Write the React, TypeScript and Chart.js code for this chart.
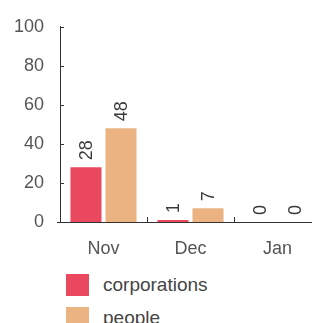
import React, { useEffect, useRef } from "react";
import { Chart, registerables } from "chart.js";

Chart.register(...registerables);

const categories = ["Nov", "Dec", "Jan"];
const seriesNames = ["corporations", "people"];
const corporations = [28, 1, 0];
const people = [48, 7, 0];
const yTicks = [0, 20, 40, 60, 80, 100];
const seriesColors = ["#E9485E", "#EAB381"];

const FONT = "'Liberation Sans', Arial, sans-serif";

const valueLabels = {
  id: "valueLabels",
  afterDatasetsDraw(chart: any) {
    const ctx = chart.ctx;
    ctx.save();
    ctx.font = `18px ${FONT}`;
    ctx.fillStyle = "#3a3a3a";
    chart.data.datasets.forEach((ds: any, di: number) => {
      const meta = chart.getDatasetMeta(di);
      meta.data.forEach((el: any, i: number) => {
        ctx.save();
        ctx.translate(el.x, el.y - 7);
        ctx.rotate(-Math.PI / 2);
        ctx.textAlign = "left";
        ctx.textBaseline = "middle";
        ctx.fillText(String(ds.data[i]), 0, 1);
        ctx.restore();
      });
    });
    ctx.restore();
  },
};

const innerTicks = {
  id: "innerTicks",
  afterDraw(chart: any) {
    const ctx = chart.ctx;
    const { left, bottom } = chart.chartArea;
    const ys = chart.scales.y;
    const xs = chart.scales.x;
    ctx.save();
    ctx.strokeStyle = "#333";
    ctx.lineWidth = 1;
    ctx.beginPath();
    yTicks.forEach((v) => {
      if (v === 0) return;
      const y = Math.round(ys.getPixelForValue(v)) + 0.5;
      ctx.moveTo(left, y);
      ctx.lineTo(left + 4, y);
    });
    for (let i = 1; i <= categories.length; i++) {
      const x = Math.round((xs.getPixelForValue(i - 1) + xs.getPixelForValue(i)) / 2) + 0.5;
      ctx.moveTo(x, bottom);
      ctx.lineTo(x, bottom - 5);
    }
    ctx.moveTo(left - 3, Math.round(bottom) + 0.5);
    ctx.lineTo(left, Math.round(bottom) + 0.5);
    ctx.stroke();
    ctx.restore();
  },
};

export default function App() {
  const ref = useRef<HTMLCanvasElement>(null);

  useEffect(() => {
    if (!ref.current) return;
    const chart = new Chart(ref.current, {
      type: "bar",
      data: {
        labels: categories,
        datasets: [
          { label: seriesNames[0], data: corporations, backgroundColor: seriesColors[0] },
          { label: seriesNames[1], data: people, backgroundColor: seriesColors[1] },
        ],
      },
      options: {
        responsive: false,
        animation: false,
        devicePixelRatio: 1,
        layout: { padding: { top: 22, right: 9, left: 0, bottom: 0 } },
        datasets: { bar: { categoryPercentage: 0.805, barPercentage: 0.886 } },
        plugins: { legend: { display: false }, tooltip: { enabled: false } },
        scales: {
          x: {
            offset: true,
            grid: { display: false, drawTicks: false },
            border: { display: true, color: "#333", width: 1 },
            ticks: { font: { family: FONT, size: 18 }, color: "#555", padding: 16 },
            afterFit: (s: any) => {
              s.height = 38;
            },
          },
          y: {
            min: 0,
            max: 100,
            grid: { display: false, drawTicks: false },
            border: { display: true, color: "#333", width: 1 },
            ticks: {
              stepSize: 20,
              font: { family: FONT, size: 18 },
              color: "#555",
              padding: 16,
            },
            afterFit: (s: any) => {
              s.width = 60;
            },
          },
        },
      },
      plugins: [valueLabels, innerTicks],
    });
    return () => chart.destroy();
  }, []);

  return (
    <div
      style={{
        position: "fixed",
        left: 0,
        top: 0,
        width: 312,
        height: 323,
        overflow: "hidden",
        background: "#fff",
      }}
    >
      <canvas
        ref={ref}
        width={330}
        height={260}
        style={{ position: "absolute", left: 0, top: 0, width: 330, height: 260 }}
      />
      <div style={{ position: "absolute", left: 66, top: 274, fontFamily: FONT, fontSize: 19, color: "#444" }}>
        {seriesNames.map((n, i) => (
          <div key={n} style={{ display: "flex", alignItems: "center", height: 22, marginBottom: 11 }}>
            <span
              style={{
                display: "inline-block",
                width: 23,
                height: 22,
                background: seriesColors[i],
                marginRight: 14,
              }}
            />
            <span style={{ lineHeight: "22px" }}>{n}</span>
          </div>
        ))}
      </div>
    </div>
  );
}
